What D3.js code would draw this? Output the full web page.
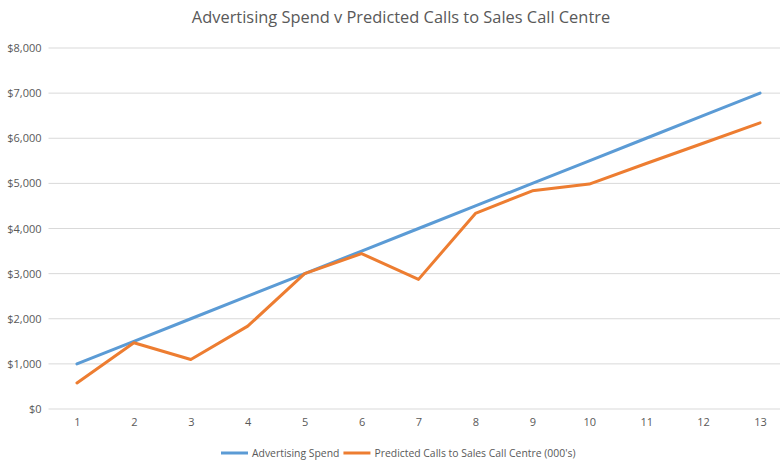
<!DOCTYPE html>
<html>
<head>
<meta charset="utf-8">
<script src="https://cdn.jsdelivr.net/npm/d3@7"></script>
<style>
  body { margin: 0; background: #fff; }
  text { font-family: "Open Sans", sans-serif; fill: #595959; }
</style>
</head>
<body>
<script>
var periods = [1, 2, 3, 4, 5, 6, 7, 8, 9, 10, 11, 12, 13];
var adSpend = [1000, 1500, 2000, 2500, 3000, 3500, 4000, 4500, 5000, 5500, 6000, 6500, 7000];
var predictedCalls = [578, 1467, 1096, 1836, 3000, 3444, 2873, 4333, 4836, 4984, 5440, 5890, 6340];
var yTicks = [0, 1000, 2000, 3000, 4000, 5000, 6000, 7000, 8000];
var seriesNames = ["Advertising Spend", "Predicted Calls to Sales Call Centre (000's)"];
var seriesColors = ["#5B9BD5", "#ED7D31"];

var width = 780, height = 468;
var margin = {top: 48, right: -8.5, bottom: 59, left: 48.5};

var svg = d3.select("body").append("svg")
    .attr("width", width)
    .attr("height", height);

var x = d3.scalePoint()
    .domain(periods)
    .range([margin.left, width - margin.right])
    .padding(0.5);

var y = d3.scaleLinear()
    .domain([0, 8000])
    .range([height - margin.bottom, margin.top]);

// gridlines
svg.append("g")
  .selectAll("line")
  .data(yTicks)
  .enter().append("line")
    .attr("x1", margin.left)
    .attr("x2", width - margin.right)
    .attr("y1", function(d) { return y(d); })
    .attr("y2", function(d) { return y(d); })
    .attr("stroke", "#D9D9D9")
    .attr("stroke-width", 1);

// y axis labels
var yAxis = d3.axisLeft(y)
    .tickValues(yTicks)
    .tickSize(0)
    .tickPadding(7)
    .tickFormat(function(d) { return "$" + d3.format(",")(d); });

svg.append("g")
    .attr("transform", "translate(" + margin.left + ",0)")
    .call(yAxis)
    .call(function(g) { g.select(".domain").remove(); })
    .selectAll("text")
    .style("font-size", "11px")
    .style("fill", "#595959");

// x axis labels
var xAxis = d3.axisBottom(x).tickSize(0).tickPadding(9);

svg.append("g")
    .attr("transform", "translate(0," + y(0) + ")")
    .call(xAxis)
    .call(function(g) { g.select(".domain").remove(); })
    .selectAll("text")
    .style("font-size", "11px")
    .style("fill", "#595959");

var line = d3.line()
    .x(function(d, i) { return x(periods[i]); })
    .y(function(d) { return y(d); });

[adSpend, predictedCalls].forEach(function(series, i) {
  svg.append("path")
      .datum(series)
      .attr("fill", "none")
      .attr("stroke", seriesColors[i])
      .attr("stroke-width", 3)
      .attr("stroke-linejoin", "round")
      .attr("stroke-linecap", "round")
      .attr("d", line);
});

// title
svg.append("text")
    .attr("x", 401)
    .attr("y", 23)
    .attr("text-anchor", "middle")
    .style("font-size", "16.4px")
    .text("Advertising Spend v Predicted Calls to Sales Call Centre");

// legend
var legend = svg.append("g").attr("transform", "translate(221,453)");
var lx = 0;
seriesNames.forEach(function(name, i) {
  var item = legend.append("g").attr("transform", "translate(" + lx + ",0)");
  item.append("line")
      .attr("x1", 0).attr("x2", 27)
      .attr("y1", 0).attr("y2", 0)
      .attr("stroke", seriesColors[i])
      .attr("stroke-width", 3);
  var t = item.append("text")
      .attr("x", 31)
      .attr("dy", "0.35em")
      .style("font-size", "10.4px")
      .text(name);
  lx += 31 + t.node().getComputedTextLength() + 4;
});
</script>
</body>
</html>
